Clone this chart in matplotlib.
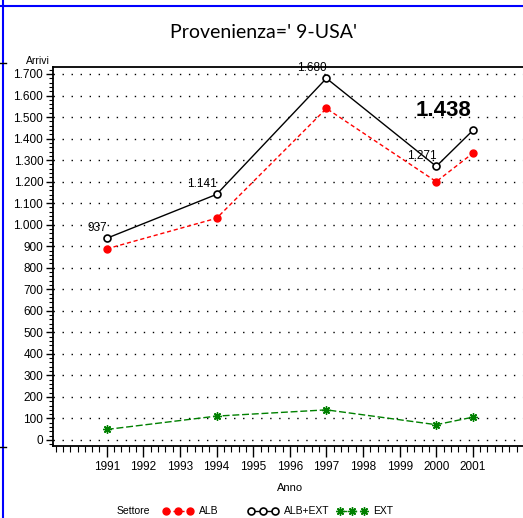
import numpy as np
import matplotlib
matplotlib.use("Agg")
import matplotlib.pyplot as plt
from matplotlib.lines import Line2D
from matplotlib.ticker import MultipleLocator, FuncFormatter

# dati
anni = [1991, 1994, 1997, 2000, 2001]
alb = [888, 1030, 1540, 1200, 1332]
alb_ext = [937, 1141, 1680, 1271, 1438]
ext = [49, 111, 140, 71, 106]
anni_tick = list(range(1991, 2002))
y_tick = list(range(0, 1701, 100))

FONT = ["Liberation Sans Narrow", "Liberation Sans", "DejaVu Sans"]
plt.rcParams["font.family"] = FONT

W, H = 523, 518
fig = plt.figure(figsize=(W / 100, H / 100), dpi=100)
fig.patch.set_facecolor("white")

# axes: left spine x=53, top y=67, bottom y=446, right beyond the figure
ax = fig.add_axes([53 / W, 1 - 446 / H, 1 - 53 / W, (446 - 67) / H])
ax.set_xlim(1989.53, 2002.37)
ax.set_ylim(-27.9, 1732.5)

ax.spines["right"].set_visible(False)
for s in ["left", "bottom", "top"]:
    ax.spines[s].set_linewidth(1.3)

# griglia a puntini
for y in y_tick:
    ax.axhline(y, color="black", lw=1.0, linestyle=(0, (1.0, 5.5)), zorder=1)

fmt = FuncFormatter(lambda v, p: f"{int(v):,}".replace(",", "."))
ax.set_yticks(y_tick)
ax.yaxis.set_major_formatter(fmt)
ax.yaxis.set_minor_locator(MultipleLocator(20))
ax.set_xticks(anni_tick)
ax.xaxis.set_minor_locator(MultipleLocator(0.2))
ax.tick_params(axis="both", which="major", labelsize=8.5, direction="out",
               width=1.0, color="black")
ax.tick_params(axis="y", which="major", length=5, pad=2)
ax.tick_params(axis="x", which="major", length=8, pad=3)
ax.tick_params(axis="y", which="minor", length=3, width=0.8)
ax.tick_params(axis="x", which="minor", length=4, width=0.8)

STAR = (8, 2, 0)

# serie
ax.plot(anni, alb, color="red", lw=1.0, linestyle=(0, (3, 2)),
        marker="o", ms=5, mfc="red", mec="red", zorder=4)
ax.plot(anni, alb_ext, color="black", lw=1.0, linestyle="-",
        marker="o", ms=5, mfc="white", mec="black", mew=1.2, zorder=5)
ax.plot(anni, ext, color="green", lw=1.0, linestyle=(0, (5, 2)),
        marker=STAR, ms=6, mfc="green", mec="green", mew=1.0, zorder=4)

# etichette valori
for x, v in zip(anni[:-1], alb_ext[:-1]):
    ax.annotate(f"{v:,}".replace(",", "."), (x, v), textcoords="offset points",
                xytext=(0, 3), ha="right", va="bottom", fontsize=8.5)
ax.text(2000.2, 1480, f"{alb_ext[-1]:,}".replace(",", "."), fontsize=16,
        fontweight="bold", ha="center", va="bottom")

# testi
fig.text(263 / W, 1 - 32 / H, "Provenienza=' 9-USA'", fontsize=14,
         ha="center", va="center", family=["Lato", "DejaVu Sans"],
         fontweight="normal")
fig.text(38 / W, 1 - 61 / H, "Arrivi", fontsize=7.5, ha="center", va="center")
fig.text(290 / W, 1 - 488 / H, "Anno", fontsize=8, ha="center", va="center")

# legenda
ly = 1 - 511 / H
fig.text(117 / W, ly, "Settore", fontsize=7.5, ha="left", va="center")
specs = [
    (166, 190, 199, "ALB", dict(color="red", linestyle=(0, (3, 2)), marker="o",
                                 ms=5, mfc="red", mec="red")),
    (251, 275, 284, "ALB+EXT", dict(color="black", linestyle="-", marker="o",
                                     ms=5, mfc="white", mec="black", mew=1.2)),
    (340, 364, 373, "EXT", dict(color="green", linestyle=(0, (5, 2)), marker=STAR,
                                 ms=6, mfc="green", mec="green", mew=1.0)),
]
for x0, x1, xt, lab, kw in specs:
    xs = np.linspace(x0, x1, 3) / W
    fig.add_artist(Line2D(xs, [ly] * 3, lw=1.0, transform=fig.transFigure, **kw))
    fig.text(xt / W, ly, lab, fontsize=7.5, ha="left", va="center")

# cornice blu e segni di taglio
fig.add_artist(Line2D([3 / W, 3 / W], [0, 1], color="blue", lw=1.5,
                      transform=fig.transFigure))
fig.add_artist(Line2D([0, 1], [1 - 6 / H, 1 - 6 / H], color="blue", lw=1.5,
                      transform=fig.transFigure))
for yy in [63, 447]:
    fig.add_artist(Line2D([0, 6 / W], [1 - yy / H] * 2, color="black", lw=1.0,
                          transform=fig.transFigure))

fig.savefig("out.png", dpi=100, facecolor="white")
